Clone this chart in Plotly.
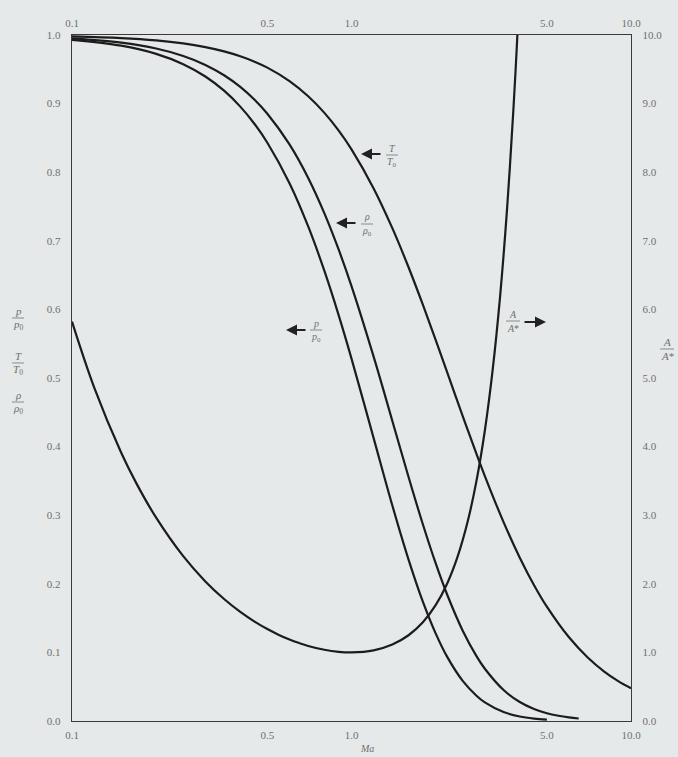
import plotly.graph_objects as go

# Mach numbers
ma_p = [0.1, 0.15, 0.2, 0.25, 0.3, 0.35, 0.4, 0.45, 0.5, 0.6, 0.7, 0.8, 0.9, 1.0, 1.2, 1.4, 1.6, 1.8, 2.0, 2.2,
        2.5, 2.8, 3.0, 3.5, 4.0, 4.5, 5.0]
p_p0 = [0.9930, 0.9844, 0.9725, 0.9575, 0.9395, 0.9188, 0.8956, 0.8703, 0.8430, 0.7840, 0.7209, 0.6560, 0.5913,
        0.5283, 0.4124, 0.3142, 0.2353, 0.1740, 0.1278, 0.0935, 0.0585, 0.0369, 0.0272, 0.0131, 0.0066, 0.0035,
        0.0019]

ma_rho = [0.1, 0.15, 0.2, 0.25, 0.3, 0.35, 0.4, 0.45, 0.5, 0.6, 0.7, 0.8, 0.9, 1.0, 1.2, 1.4, 1.6, 1.8, 2.0, 2.2,
          2.5, 2.8, 3.0, 3.5, 4.0, 4.5, 5.0, 5.5, 6.0, 6.5]
rho_rho0 = [0.9950, 0.9888, 0.9803, 0.9694, 0.9564, 0.9413, 0.9243, 0.9055, 0.8852, 0.8405, 0.7916, 0.7400,
            0.6870, 0.6339, 0.5311, 0.4374, 0.3557, 0.2868, 0.2300, 0.1840, 0.1317, 0.0946, 0.0762, 0.0452,
            0.0277, 0.0175, 0.0113, 0.0076, 0.0052, 0.0036]

ma_T = [0.1, 0.15, 0.2, 0.25, 0.3, 0.35, 0.4, 0.45, 0.5, 0.6, 0.7, 0.8, 0.9, 1.0, 1.2, 1.4, 1.6, 1.8, 2.0, 2.2,
        2.5, 2.8, 3.0, 3.5, 4.0, 4.5, 5.0, 6.0, 7.0, 8.0, 9.0, 10.0]
T_T0 = [0.9980, 0.9955, 0.9921, 0.9877, 0.9823, 0.9761, 0.9690, 0.9611, 0.9524, 0.9328, 0.9107, 0.8865, 0.8606,
        0.8333, 0.7764, 0.7184, 0.6614, 0.6068, 0.5556, 0.5081, 0.4444, 0.3894, 0.3571, 0.2899, 0.2381, 0.1980,
        0.1667, 0.1220, 0.0926, 0.0725, 0.0581, 0.0476]

ma_A = [0.1, 0.12, 0.15, 0.17, 0.2, 0.25, 0.3, 0.35, 0.4, 0.45, 0.5, 0.55, 0.6, 0.65, 0.7, 0.8, 0.9, 1.0, 1.2,
        1.4, 1.6, 1.8, 2.0, 2.2, 2.4, 2.6, 2.8, 3.0, 3.2, 3.4, 3.6, 3.8, 3.9, 4.0]
A_Astar = [5.822, 4.864, 3.910, 3.464, 2.964, 2.403, 2.035, 1.778, 1.590, 1.449, 1.340, 1.255, 1.188, 1.136,
           1.094, 1.038, 1.009, 1.000, 1.030, 1.115, 1.250, 1.439, 1.688, 2.005, 2.403, 2.896, 3.500, 4.235,
           5.121, 6.184, 7.450, 8.951, 9.80, 10.72]

x_ticks = [0.1, 0.5, 1.0, 5.0, 10.0]
x_ticktext = ["0.1", "0.5", "1.0", "5.0", "10.0"]
left_ticks = [i / 10 for i in range(11)]
left_ticktext = ["0.0", "0.1", "0.2", "0.3", "0.4", "0.5", "0.6", "0.7", "0.8", "0.9", "1.0"]
right_ticks = list(range(11))
right_ticktext = ["0.0", "1.0", "2.0", "3.0", "4.0", "5.0", "6.0", "7.0", "8.0", "9.0", "10.0"]

BG = "#e5e9ea"
INK = "#1c1c1c"
AXC = "#3a3a3a"
TXT = "#707070"
FONT = "Liberation Serif"

line = dict(color=INK, width=2.2, shape="spline", smoothing=1.0)

fig = go.Figure()
fig.add_trace(go.Scatter(x=ma_p, y=p_p0, mode="lines", line=line, xaxis="x", yaxis="y", showlegend=False))
fig.add_trace(go.Scatter(x=ma_rho, y=rho_rho0, mode="lines", line=line, xaxis="x", yaxis="y", showlegend=False))
fig.add_trace(go.Scatter(x=ma_T, y=T_T0, mode="lines", line=line, xaxis="x", yaxis="y", showlegend=False))
fig.add_trace(go.Scatter(x=ma_A, y=A_Astar, mode="lines", line=line, xaxis="x2", yaxis="y2", showlegend=False))

axfont = dict(family=FONT, size=11, color=TXT)

fig.update_layout(
    width=678, height=757,
    margin=dict(l=72, r=47, t=35, b=36),
    paper_bgcolor=BG, plot_bgcolor=BG,
    font=dict(family=FONT, color=TXT),
    xaxis=dict(type="log", range=[-1, 1], tickvals=x_ticks, ticktext=x_ticktext,
               showgrid=False, zeroline=False, showline=True, linecolor=AXC, linewidth=1.4,
               ticks="", ticklabelstandoff=4, tickfont=axfont),
    xaxis2=dict(type="log", range=[-1, 1], tickvals=x_ticks, ticktext=x_ticktext,
                overlaying="x", side="top", anchor="y",
                showgrid=False, zeroline=False, showline=True, linecolor=AXC, linewidth=1.4,
                ticks="", ticklabelstandoff=2, tickfont=axfont),
    yaxis=dict(range=[0, 1], tickvals=left_ticks, ticktext=left_ticktext,
               showgrid=False, zeroline=False, showline=True, linecolor=AXC, linewidth=1.4,
               ticks="", ticklabelstandoff=8, tickfont=axfont),
    yaxis2=dict(range=[0, 10], tickvals=right_ticks, ticktext=right_ticktext,
                overlaying="y", side="right", anchor="x",
                showgrid=False, zeroline=False, showline=True, linecolor=AXC, linewidth=1.4,
                ticks="", ticklabelstandoff=8, tickfont=axfont),
)

# plot area: x 72..631, y 35..721
def px(X):
    return (X - 72) / 559

def py(Y):
    return (721 - Y) / 686

annots = []
shapes = []

def label(X, Y, text, size=10):
    annots.append(dict(x=px(X), y=py(Y), xref="paper", yref="paper", text=text, showarrow=False,
                       font=dict(family=FONT, size=size, color=TXT), align="center",
                       xanchor="center", yanchor="middle"))

def frac(X, Y, num, den, size=10, half=6):
    label(X, Y - 7, num, size)
    label(X, Y + 7, den, size)
    shapes.append(dict(type="line", xref="paper", yref="paper",
                       x0=px(X - half), x1=px(X + half), y0=py(Y), y1=py(Y),
                       line=dict(color="#8a8a8a", width=1)))

def arrow(Xh, Y, dx):
    annots.append(dict(x=px(Xh), y=py(Y), xref="paper", yref="paper", text="", showarrow=True,
                       ax=dx, ay=0, axref="pixel", ayref="pixel",
                       arrowhead=2, arrowsize=1.1, arrowwidth=2, arrowcolor="#222"))

# in-plot labels
frac(392, 155, "<i>T</i>", "<i>T</i><sub>0</sub>")
arrow(361, 154, 21)
frac(367, 224, "<i>ρ</i>", "<i>ρ</i><sub>0</sub>")
arrow(336, 223, 21)
frac(316, 330, "<i>p</i>", "<i>p</i><sub>0</sub>")
arrow(286, 330, 21)
frac(513, 321, "<i>A</i>", "<i>A</i>*", half=7)
arrow(546, 322, -23)

# left axis titles
frac(18, 318, "<i>p</i>", "<i>p</i><sub>0</sub>", size=11)
frac(18, 363, "<i>T</i>", "<i>T</i><sub>0</sub>", size=11)
frac(18, 402, "<i>ρ</i>", "<i>ρ</i><sub>0</sub>", size=11)
# right axis title
frac(667, 349, "<i>A</i>", "<i>A</i>*", size=11, half=7)
# x axis title
label(367, 748, "<i>Ma</i>", size=10)

fig.update_layout(annotations=annots, shapes=shapes)

fig.write_html(
    "out.html",
    config={"displayModeBar": False},
    post_script="document.body.style.margin='0';document.body.style.background='#e5e9ea';",
)
